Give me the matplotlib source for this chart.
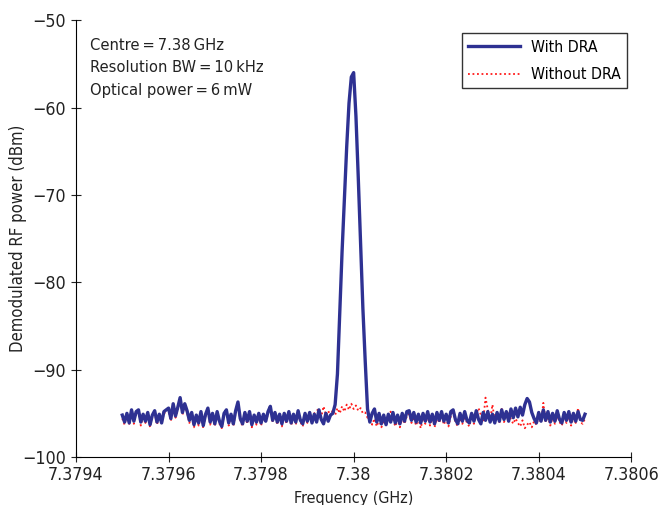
import numpy as np
import matplotlib
matplotlib.use('Agg')
import matplotlib.pyplot as plt

plt.rcParams['font.family'] = ['DejaVu Sans']
plt.rcParams['font.stretch'] = 'condensed'

# frequency sweep (GHz), 5 kHz steps
freq = np.linspace(7.3795, 7.3805, 201)

# with DRA (dBm)
with_dra = [
    -95.2, -96.0, -95.0, -96.1, -94.6, -95.9, -94.8, -94.6, -96.0, -95.1,
    -95.9, -94.9, -96.3, -95.2, -94.7, -96.0, -95.1, -96.1, -94.8, -94.6,
    -94.4, -95.6, -93.9, -95.3, -94.3, -93.2, -94.9, -93.9, -94.7, -95.8,
    -94.9, -96.3, -95.2, -96.1, -94.8, -96.4, -95.1, -94.4, -96.0, -95.0,
    -96.2, -94.8, -95.9, -96.5, -95.0, -94.6, -96.1, -95.1, -96.2, -94.7,
    -93.7, -95.6, -96.2, -94.9, -95.9, -94.8, -96.3, -95.2, -96.0, -95.0,
    -96.1, -95.1, -95.9, -94.8, -94.2, -95.8, -94.9, -96.0, -95.1, -96.2,
    -95.0, -95.9, -94.8, -96.1, -95.1, -96.0, -94.7, -95.8, -96.2, -95.0,
    -95.9, -94.9, -96.1, -95.1, -96.0, -94.6, -95.7, -96.2, -95.0, -95.9,
    -95.2, -95.0, -94.0, -90.5, -83.5, -76.5, -70.5, -64.5, -59.5, -56.5,
    -56.0, -61.0, -68.0, -75.5, -83.0, -89.0, -94.5, -96.0, -95.0, -94.5,
    -96.0, -95.0, -96.2, -95.2, -96.3, -95.1, -96.0, -94.9, -96.1, -95.2,
    -96.2, -95.0, -95.9, -94.8, -94.7, -95.8, -94.9, -96.0, -95.1, -96.1,
    -95.0, -95.9, -94.8, -96.0, -95.1, -96.2, -94.9, -95.8, -94.8, -95.9,
    -95.1, -96.1, -94.8, -94.6, -95.7, -96.2, -95.0, -95.9, -94.8, -95.8,
    -96.1, -95.0, -95.9, -94.7, -95.7, -96.2, -94.9, -95.8, -94.8, -96.0,
    -95.1, -96.1, -94.9, -95.9, -94.6, -95.7, -94.8, -95.9, -94.5, -95.5,
    -94.4, -95.4, -94.3, -95.2, -94.0, -93.3, -93.7, -94.9, -95.6, -96.1,
    -94.9, -95.9, -94.6, -95.8, -94.8, -96.0, -95.0, -95.9, -94.7, -95.7,
    -96.1, -94.9, -95.8, -94.8, -96.0, -95.0, -95.9, -94.8, -95.7, -95.8,
    -95.1,
]

# without DRA (dBm)
without_dra = [
    -95.6, -96.3, -95.1, -96.2, -94.9, -96.2, -95.0, -94.8, -96.4, -95.3,
    -96.1, -95.0, -96.6, -95.1, -94.9, -96.3, -95.3, -96.2, -95.0, -94.8,
    -94.6, -95.9, -94.1, -95.5, -94.5, -93.4, -95.2, -94.1, -94.9, -96.1,
    -95.1, -96.6, -95.4, -96.4, -95.0, -96.7, -95.3, -94.6, -96.3, -95.2,
    -96.5, -95.0, -96.2, -96.7, -95.2, -94.8, -96.4, -95.3, -96.5, -94.9,
    -94.0, -95.8, -96.5, -95.1, -96.2, -95.0, -96.6, -95.4, -96.3, -95.2,
    -96.4, -95.3, -96.1, -95.0, -94.1, -96.0, -95.1, -96.3, -95.3, -96.5,
    -95.2, -96.2, -95.0, -96.4, -95.3, -96.3, -94.9, -96.0, -96.5, -95.2,
    -96.1, -94.9, -95.8, -95.0, -94.7, -94.5, -95.4, -94.2, -95.2, -94.7,
    -95.3, -94.6, -95.2, -94.4, -95.0, -94.2, -94.8, -94.0, -94.6, -93.9,
    -94.5, -94.1, -94.7, -94.4, -95.0, -94.9, -95.5, -95.2, -96.3, -95.6,
    -96.5, -95.7, -96.6, -95.8, -96.4, -95.5, -94.8, -95.6, -96.5, -95.7,
    -96.6, -95.5, -96.2, -95.3, -95.1, -96.1, -95.4, -96.4, -95.6, -96.7,
    -95.5, -96.2, -95.3, -96.4, -95.6, -96.6, -95.4, -96.1, -95.2, -96.3,
    -95.6, -96.5, -95.3, -94.9, -96.0, -96.5, -95.5, -96.2, -95.3, -96.1,
    -96.5, -95.4, -96.2, -95.1, -94.4, -95.2, -95.9, -93.2, -94.6, -95.8,
    -94.0, -95.9, -94.9, -96.1, -94.5, -96.0, -95.3, -94.8, -95.7, -96.2,
    -95.6, -96.1, -96.5, -95.8, -96.7, -96.3, -96.0, -96.6, -95.9, -96.3,
    -95.4, -96.1, -93.8, -96.0, -95.3, -96.4, -95.5, -96.2, -95.2, -96.0,
    -96.4, -95.4, -96.1, -95.3, -96.4, -95.5, -96.1, -94.4, -96.0, -96.2,
    -95.6,
]

fig = plt.figure(figsize=(6.61, 5.05), dpi=100)
ax = fig.add_axes([0.115, 0.095, 0.84, 0.865])

ax.plot(freq, without_dra, color='#ff1a1a', lw=1.3, ls=(0, (1, 1.5)),
        label='Without DRA', zorder=2)
ax.plot(freq, with_dra, color='#2e3192', lw=2.4, label='With DRA', zorder=3)

ax.set_xlim(7.3794, 7.3806)
ax.set_ylim(-100, -50)
ax.set_xticks([7.3794, 7.3796, 7.3798, 7.38, 7.3802, 7.3804, 7.3806])
ax.set_xticklabels(['7.3794', '7.3796', '7.3798', '7.38', '7.3802', '7.3804', '7.3806'])
ax.set_yticks(range(-100, -49, 10))
ax.tick_params(direction='inout', length=7, width=0.8, labelsize=12.8, colors='#222222')
ax.tick_params(axis='x', pad=3)

for s in ['top', 'right']:
    ax.spines[s].set_visible(False)
for s in ['left', 'bottom']:
    ax.spines[s].set_linewidth(0.8)

ax.set_xlabel('Frequency (GHz)', fontsize=11.5, color='#222222', labelpad=5)
ax.set_ylabel('Demodulated RF power (dBm)', fontsize=12, color='#222222')
ax.yaxis.set_label_coords(-0.088, 0.5)

ax.text(0.025, 0.96,
        'Centre\u2009=\u20097.38\u2009GHz\nResolution BW\u2009=\u200910\u2009kHz\nOptical power\u2009=\u20096\u2009mW',
        transform=ax.transAxes, ha='left', va='top', fontsize=11.8,
        linespacing=1.62, color='#222222')

h, l = ax.get_legend_handles_labels()
leg = ax.legend(h[::-1], l[::-1], loc='upper right', bbox_to_anchor=(0.993, 0.97),
                fontsize=11.3, frameon=True, fancybox=False, borderpad=0.4,
                handlelength=3.3, handletextpad=0.7, labelspacing=0.8,
                borderaxespad=0)
leg.get_frame().set_edgecolor('black')
leg.get_frame().set_linewidth(1.0)

fig.savefig('out.png', dpi=100)
